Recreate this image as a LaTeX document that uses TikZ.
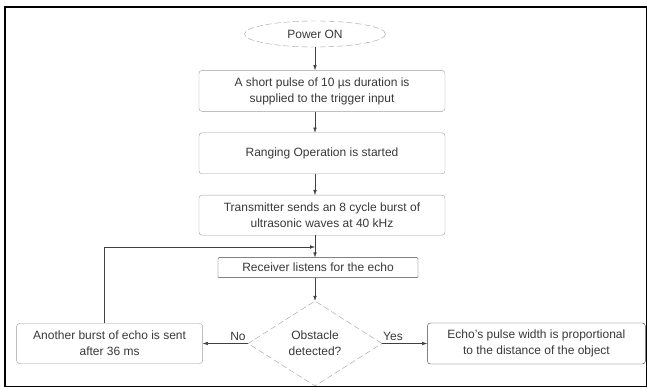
\documentclass[tikz,border=0pt]{standalone}
\usepackage{fontspec}
\setmainfont{Liberation Sans}
\usetikzlibrary{positioning}
\usetikzlibrary{shapes.geometric}
\usetikzlibrary{arrows.meta}

\definecolor{lineGray}{gray}{0.62}
\definecolor{darkLine}{gray}{0.25}
\definecolor{textGray}{gray}{0.22}

\begin{document}
\begin{tikzpicture}
    [x=1pt, y=-1pt,
     font=\fontsize{12}{16}\selectfont, text=textGray,
     >={Latex[length=5pt,width=3.5pt]},
     flowStart/.style={ellipse, draw=lineGray, dash pattern=on 6pt off 3pt, minimum width=141pt, minimum height=26pt, inner sep=0pt},
     flowStep/.style={rectangle, rounded corners=3pt, draw=lineGray, align=center, minimum width=246pt, minimum height=41pt, inner sep=2pt},
     flowStepDark/.style={rectangle, rounded corners=3pt, draw=darkLine, align=center, inner sep=2pt},
     flowDecision/.style={diamond, draw=lineGray, dash pattern=on 6pt off 3pt, align=center, minimum width=134pt, minimum height=85pt, inner sep=0pt},
     flowLabel/.style={inner sep=1pt},
     flowArrow/.style={->, draw=darkLine, thin},
    ]

    \useasboundingbox (0,0) rectangle (647,387);
    \draw[line width=1.4pt, black] (5,7) rectangle (646.3,386.3);

    \node[flowStart] (powerOn) at (315,34) {Power ON};
    \node[flowStep] (pulseBox) [below=23pt of powerOn, xshift=7pt]
        {A short pulse of 10 µs duration is\\supplied to the trigger input};
    \node[flowStep] (rangingBox) [below=21pt of pulseBox] {Ranging Operation is started};
    \node[flowStep] (sendBox) [below=21pt of rangingBox, minimum height=40pt]
        {Transmitter sends an 8 cycle burst of\\ultrasonic waves at 40 kHz};
    \node[flowStepDark] (receiveBox) [below=22pt of sendBox, xshift=-4pt, rounded corners=1pt,
        minimum width=200pt, minimum height=20pt] {Receiver listens for the echo};
    \node[flowDecision] (obstacleCheck) [below=23pt of receiveBox, xshift=-3pt] {Obstacle\\detected?};
    \node[flowStep] (retryBox) [left=45pt of obstacleCheck, minimum width=186pt, minimum height=40pt]
        {Another burst of echo is sent\\after 36 ms};
    \node[flowStepDark] (echoBox) [right=45pt of obstacleCheck, minimum width=218pt, minimum height=41pt]
        {Echo's pulse width is proportional\\to the distance of the object};

    % connectors of the main column
    \draw[flowArrow] (powerOn.south) -- (powerOn.south |- pulseBox.north);
    \draw[flowArrow] (pulseBox.south -| powerOn) -- (rangingBox.north -| powerOn);
    \draw[flowArrow] (rangingBox.south -| powerOn) -- (sendBox.north -| powerOn);
    \draw[flowArrow] (sendBox.south -| powerOn) -- (receiveBox.north -| powerOn);
    \draw[flowArrow] (receiveBox.south -| obstacleCheck) -- (obstacleCheck.north);

    % the two outcomes
    \draw[flowArrow] (obstacleCheck.west) -- (retryBox.east);
    \draw[flowArrow] (obstacleCheck.east) -- (echoBox.west);
    \node[flowLabel] (noLabel) at (238,336) {No};
    \node[flowLabel] (yesLabel) at (393,336) {Yes};

    % back to the receiver
    \coordinate (loopEnd) at (315,247);
    \draw[flowArrow] ([xshift=-5pt]retryBox.north) |- (loopEnd);

\end{tikzpicture}
\end{document}
